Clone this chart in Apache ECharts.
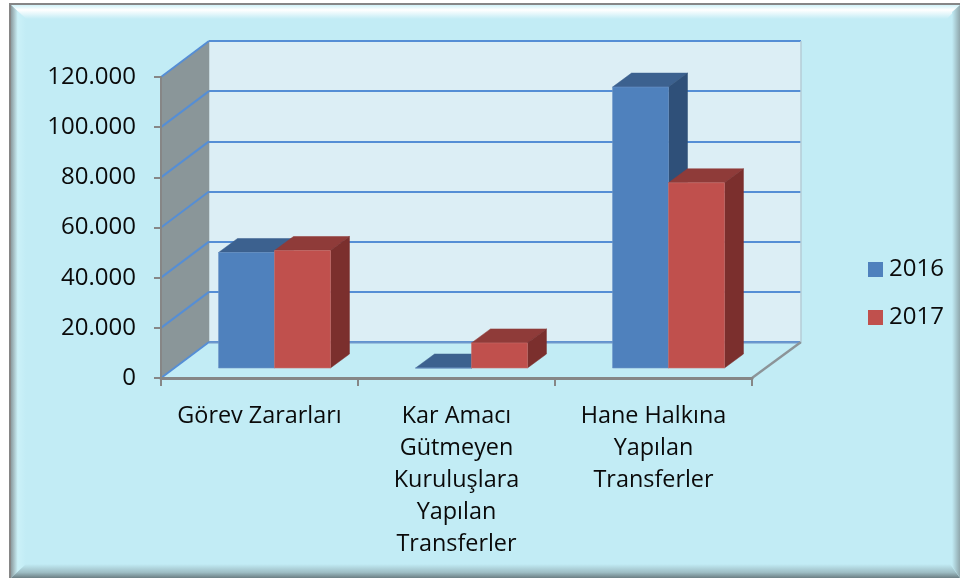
<!DOCTYPE html>
<html>
<head>
<meta charset="utf-8">
<style>html,body{margin:0;padding:0;background:#fff}#c{width:960px;height:580px}</style>
<script src="https://cdn.jsdelivr.net/npm/echarts@6/dist/echarts.min.js"></script>
</head>
<body>
<div id="c"></div>
<script>
const categories = ['Görev Zararları', 'Kar Amacı\nGütmeyen\nKuruluşlara\nYapılan\nTransferler', 'Hane Halkına\nYapılan\nTransferler'];
const values2016 = [46050, 0, 112000];
const values2017 = [46850, 10000, 73850];
const tickValues = [0, 20000, 40000, 60000, 80000, 100000, 120000];
const tickLabels = ['0', '20.000', '40.000', '60.000', '80.000', '100.000', '120.000'];

const FONT = '"Open Sans"';
const BG = '#C2ECF5';
const WALL_DX = 48, WALL_DY = -36;
const BAR_DX = 19, BAR_DY = -14;
const BAR_FRAC = 0.284;

const plotLeft = 161, plotTop = 77, plotW = 591, plotH = 301;

function poly(points, fill, stroke, lw) {
  return { type: 'polygon', shape: { points }, style: { fill, stroke: stroke || fill, lineWidth: lw === undefined ? 1 : lw } };
}

function barItem(slot, front, top, side, edge) {
  return function (params, api) {
    const i = api.value(0), v = api.value(1);
    const w = api.size([1, 0])[0] * BAR_FRAC;
    const t = api.coord([i, v]), b = api.coord([i, 0]);
    const x0 = t[0] + slot * w, x1 = x0 + w, yt = t[1], yb = b[1];
    return {
      type: 'group',
      children: [
        poly([[x0, yt], [x0 + BAR_DX, yt + BAR_DY], [x1 + BAR_DX, yt + BAR_DY], [x1, yt]], top, top, 0.5),
        poly([[x1, yt], [x1 + BAR_DX, yt + BAR_DY], [x1 + BAR_DX, yb + BAR_DY], [x1, yb]], side, side, 0.5),
        poly([[x0, yt], [x1, yt], [x1, yb], [x0, yb]], front, edge, 0.6)
      ]
    };
  };
}

function wallsItem(params, api) {
  const c = params.coordSys;
  const x0 = c.x, x1 = c.x + c.width, yT = c.y, yB = c.y + c.height;
  const xB = x1 + WALL_DX + 1;
  return {
    type: 'group',
    children: [
      poly([[x0, yB], [x0 + WALL_DX, yB + WALL_DY], [xB, yB + WALL_DY], [x1, yB]], BG, BG, 0),
      poly([[x0, yT], [x0 + WALL_DX, yT + WALL_DY], [x0 + WALL_DX, yB + WALL_DY], [x0, yB]], '#8A9699', '#8A9699', 0.5),
      { type: 'line', shape: { x1: x0 + WALL_DX, y1: yB + WALL_DY + 0.5, x2: xB, y2: yB + WALL_DY + 0.5 }, style: { stroke: '#6E97CC', lineWidth: 2 } },
      { type: 'line', shape: { x1: x1, y1: yB, x2: xB, y2: yB + WALL_DY }, style: { stroke: '#8C9498', lineWidth: 2.4 } },
      { type: 'line', shape: { x1: xB, y1: yB + WALL_DY, x2: xB, y2: yT + WALL_DY }, style: { stroke: '#B4CCD6', lineWidth: 1.5 } }
    ]
  };
}

function diagItem(params, api) {
  const c = params.coordSys;
  const y = api.coord([0, api.value(0)])[1];
  return { type: 'line', shape: { x1: c.x, y1: y, x2: c.x + WALL_DX, y2: y + WALL_DY }, style: { stroke: '#558ED5', lineWidth: 2 } };
}

function band(points, x, y, x2, y2, stops) {
  return {
    type: 'polygon', z: -10, silent: true, shape: { points },
    style: { fill: { type: 'linear', x, y, x2, y2, colorStops: stops } }
  };
}

const axisGrey = '#868686';
const textColor = '#0a0a0a';

const chart = echarts.init(document.getElementById('c'), null, { renderer: 'canvas' });
chart.setOption({
  animation: false,
  backgroundColor: '#ffffff',
  textStyle: { fontFamily: FONT },
  graphic: { elements: [
    { type: 'rect', z: -11, silent: true, shape: { x: 9, y: 3, width: 951, height: 575 }, style: { fill: BG } },
    band([[11, 5], [960, 5], [947, 19], [26, 19]], 0, 0, 0, 1, [
      { offset: 0, color: '#D0F2F8' }, { offset: 0.35, color: '#FFFFFF' }, { offset: 1, color: BG }]),
    band([[11, 5], [26, 19], [26, 564], [11, 578]], 0, 0, 1, 0, [
      { offset: 0, color: '#8C9CA0' }, { offset: 0.45, color: '#CBF1F8' }, { offset: 1, color: BG }]),
    band([[11, 578], [26, 564], [950, 564], [960, 578]], 0, 0, 0, 1, [
      { offset: 0, color: BG }, { offset: 0.6, color: '#9DBDC4' }, { offset: 1, color: '#6C7F84' }]),
    band([[952, 12], [960, 5], [960, 578], [952, 566]], 0, 0, 1, 0, [
      { offset: 0, color: BG }, { offset: 1, color: '#8FA7AC' }]),
    { type: 'rect', z: -9, silent: true, shape: { x: 9, y: 3, width: 951, height: 2 }, style: { fill: '#868686' } },
    { type: 'rect', z: -9, silent: true, shape: { x: 9, y: 3, width: 2, height: 575 }, style: { fill: '#868686' } }
  ] },
  legend: {
    orient: 'vertical', left: 863, top: 251, itemWidth: 15, itemHeight: 15, itemGap: 21,
    icon: 'rect', data: ['2016', '2017'], selectedMode: false, itemStyle: { borderWidth: 0 },
    textStyle: { fontFamily: FONT, fontSize: 24, color: textColor, lineHeight: 27, padding: [0, 0, 0, 1] }
  },
  grid: [
    { left: plotLeft, top: plotTop, width: plotW, height: plotH },
    { left: plotLeft + WALL_DX, top: plotTop + WALL_DY, width: plotW + 1, height: plotH, show: true, backgroundColor: '#DCEEF5', borderWidth: 0 },
    { left: plotLeft + 15, top: plotTop - 10, width: plotW, height: plotH }
  ],
  xAxis: [
    { type: 'category', gridIndex: 0, data: categories, z: 5,
      axisLine: { lineStyle: { color: axisGrey, width: 3 } },
      axisTick: { show: true, alignWithLabel: false, length: 8, lineStyle: { color: axisGrey, width: 2 } },
      axisLabel: { interval: 0, margin: 22, fontFamily: FONT, fontSize: 23.4, color: textColor, lineHeight: 32, verticalAlign: 'top' } },
    { type: 'category', gridIndex: 1, data: categories, show: false },
    { type: 'category', gridIndex: 2, data: categories, show: false }
  ],
  yAxis: [
    { type: 'value', gridIndex: 0, min: 0, max: 120000, interval: 20000, z: 5,
      splitLine: { show: false },
      axisLine: { show: true, lineStyle: { color: axisGrey, width: 2 } },
      axisTick: { show: true, length: 7, lineStyle: { color: axisGrey, width: 2 } },
      axisLabel: { margin: 25, fontFamily: FONT, fontSize: 24, color: textColor, padding: [6, 0, 0, 0],
        formatter: v => tickLabels[tickValues.indexOf(v)] } },
    { type: 'value', gridIndex: 1, min: 0, max: 120000, interval: 20000,
      axisLine: { show: false }, axisTick: { show: false }, axisLabel: { show: false },
      splitLine: { show: true, lineStyle: { color: '#558ED5', width: 2 } } },
    { type: 'value', gridIndex: 2, min: 0, max: 120000, interval: 20000, show: false, splitLine: { show: false } }
  ],
  series: [
    { type: 'custom', xAxisIndex: 0, yAxisIndex: 0, z: 1, silent: true, clip: false, data: [[0]], renderItem: wallsItem, legendHoverLink: false },
    { type: 'custom', xAxisIndex: 0, yAxisIndex: 0, z: 2, silent: true, clip: false, data: tickValues.map(v => [v]), renderItem: diagItem },
    { type: 'custom', name: '2016', xAxisIndex: 2, yAxisIndex: 2, z: 3, silent: true, clip: false,
      itemStyle: { color: '#4F81BD' }, encode: { x: 0, y: 1 },
      data: values2016.map((v, i) => [i, v]), renderItem: barItem(-1, '#4F81BD', '#3C618F', '#2F5079', '#6C96C8') },
    { type: 'custom', name: '2017', xAxisIndex: 2, yAxisIndex: 2, z: 4, silent: true, clip: false,
      itemStyle: { color: '#C0504D' }, encode: { x: 0, y: 1 },
      data: values2017.map((v, i) => [i, v]), renderItem: barItem(0, '#C0504D', '#8F3B39', '#7B2F2D', '#C8706D') }
  ]
});
</script>
</body>
</html>
